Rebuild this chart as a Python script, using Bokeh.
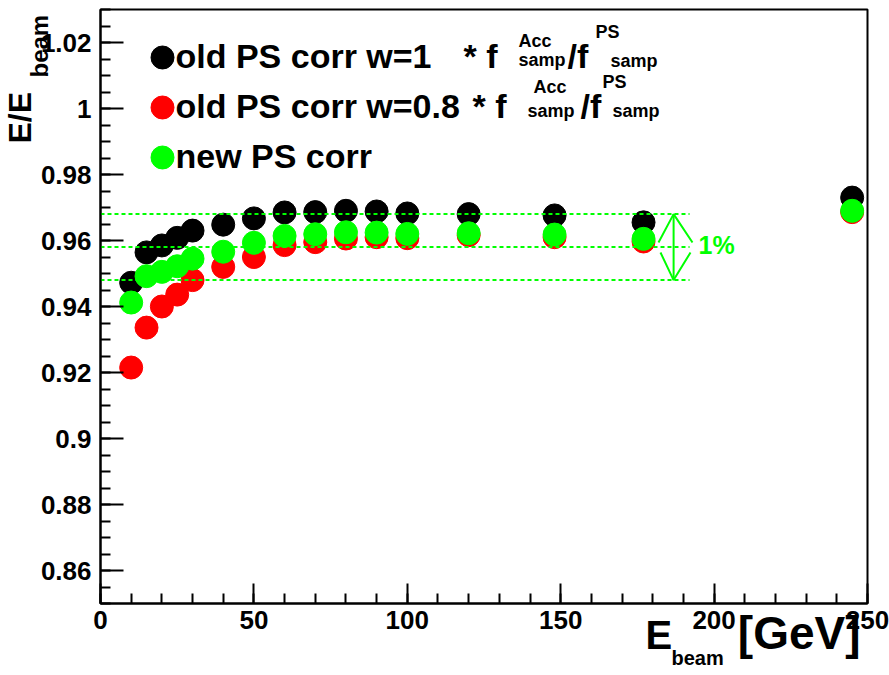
import math
from bokeh.plotting import figure
from bokeh.models import Range1d, Label, FixedTicker, CustomJSTickFormatter, ColumnDataSource
from bokeh.core.properties import value
from bokeh.embed import file_html
from bokeh.resources import INLINE

# ---------------- data ----------------
e_beam = [10, 15, 20, 25, 30, 40, 50, 60, 70, 80, 90, 100, 120, 148, 177, 245]
old_w1 = [0.9472, 0.9564, 0.9585, 0.9608, 0.9630, 0.9648, 0.9667, 0.9685, 0.9686,
          0.9690, 0.9688, 0.9682, 0.9680, 0.9676, 0.9655, 0.9730]
old_w08 = [0.9215, 0.9336, 0.9400, 0.9436, 0.9480, 0.9520, 0.9550, 0.9586, 0.9595,
           0.9606, 0.9610, 0.9607, 0.9616, 0.9610, 0.9597, 0.9686]
new_ps = [0.9412, 0.9492, 0.9505, 0.9522, 0.9545, 0.9566, 0.9593, 0.9614, 0.9619,
          0.9625, 0.9624, 0.9620, 0.9622, 0.9618, 0.9605, 0.9690]

series_names = ["old PS corr w=1", "old PS corr w=0.8", "new PS corr"]
series_colors = ["#000000", "#ff0000", "#00ff00"]

x_ticks = [0, 50, 100, 150, 200, 250]
x_minor = list(range(0, 251, 10))
y_ticks = [0.86, 0.88, 0.90, 0.92, 0.94, 0.96, 0.98, 1.00, 1.02]
y_tick_labels = ["0.86", "0.88", "0.9", "0.92", "0.94", "0.96", "0.98", "1", "1.02"]
y_minor = [round(0.85 + 0.005 * i, 3) for i in range(37)]

band_levels = [0.968, 0.958, 0.948]   # dotted reference lines (1% band)
band_xmax = 192
arrow_x = 186.8
band_text = "1%"

# ---------------- figure ----------------
W, H = 889, 675
FL, FR, FT, FB = 100, 867, 9, 603
X0, X1 = 0, 250
Y0, Y1 = 0.85, 1.03
MID = 0.3465  # (ascent - descent)/2 in em for Liberation Sans

def dx(px):
    return X0 + (px - FL) * (X1 - X0) / (FR - FL)

def dy(py):
    return Y1 - (py - FT) * (Y1 - Y0) / (FB - FT)

p = figure(width=W, height=H, x_range=Range1d(X0, X1), y_range=Range1d(Y0, Y1),
           output_backend="svg", toolbar_location=None, title=None,
           min_border_left=FL, min_border_right=W - FR,
           min_border_top=FT, min_border_bottom=H - FB)
p.background_fill_color = "white"
p.border_fill_color = "white"
p.outline_line_color = "black"
p.outline_line_width = 2
p.xgrid.visible = False
p.ygrid.visible = False

FONT = "Liberation Sans"

p.xaxis.ticker = FixedTicker(ticks=x_ticks, minor_ticks=x_minor)
p.yaxis.ticker = FixedTicker(ticks=y_ticks, minor_ticks=y_minor)
p.yaxis.formatter = CustomJSTickFormatter(
    args=dict(tv=y_ticks, tl=y_tick_labels),
    code="const i = tv.findIndex(t => Math.abs(t - tick) < 1e-9); return i >= 0 ? tl[i] : '';")
for ax in (p.xaxis[0], p.yaxis[0]):
    ax.axis_line_width = 2
    ax.major_tick_line_width = 2
    ax.minor_tick_line_width = 2
    ax.major_tick_out = 0
    ax.minor_tick_out = 0
    ax.minor_tick_in = 10
    ax.major_label_text_font = FONT
    ax.major_label_text_font_style = "bold"
    ax.major_label_text_font_size = "26px"
    ax.major_label_text_color = "black"
p.yaxis.major_tick_in = 23
p.xaxis.major_tick_in = 20
p.yaxis.major_label_standoff = 9
p.xaxis.major_label_standoff = 7

# ---------------- data points ----------------
for vals, col in zip([old_w1, old_w08, new_ps], series_colors):
    src = ColumnDataSource(dict(x=e_beam, y=vals))
    p.scatter("x", "y", source=src, size=23, fill_color=col, line_color=col, marker="circle")

# dotted band lines
for lvl in band_levels:
    p.line([0, band_xmax], [lvl, lvl], line_color="#00ff00", line_width=2, line_dash="4 3")

# double arrow (open heads)
top, mid, bot = band_levels
p.line([arrow_x, arrow_x], [bot, top], line_color="#00ff00", line_width=2)
p.line([dx(658), arrow_x, dx(692)], [dy(242), top, dy(242)], line_color="#00ff00", line_width=2)
p.line([dx(660), arrow_x, dx(690)], [dy(252), bot, dy(252)], line_color="#00ff00", line_width=2)
p.add_layout(Label(x=dx(698), y=dy(253 - MID * 25), text=band_text, text_font=FONT,
                   text_font_style="bold", text_font_size="25px", text_color="#00ff00",
                   text_baseline="middle"))

# ---------------- legend ----------------
leg_y = [57, 107, 157]
for py, col in zip(leg_y, series_colors):
    p.scatter([dx(162)], [dy(py)], size=23, fill_color=col, line_color=col, marker="circle")

def lab(px, py, text, size, align="left"):
    """px, py: canvas pixel position of the text baseline start (inside the frame)."""
    p.add_layout(Label(x=dx(px), y=dy(py - MID * size),
                       text=text, text_font=FONT, text_font_style="bold",
                       text_font_size=f"{size}px", text_color="black",
                       text_baseline="middle", text_align=align))

def outside(px, py, text, size, angle=0.0, align="left"):
    """Text outside the frame: anchored at the nearest frame edge, shifted by pixel offsets."""
    if angle == 0.0:
        sx, sy = px, py - MID * size
    else:
        sx, sy = px - MID * size, py
    ax_ = min(max(sx, FL + 1), FR - 1)
    ay_ = min(max(sy, FT + 1), FB - 1)
    p.text(x=[dx(ax_)], y=[dy(ay_)], text=[text], x_offset=sx - ax_, y_offset=sy - ay_,
           angle=angle, text_font=value(FONT), text_font_style="bold",
           text_font_size=f"{size}px", text_color="black",
           text_baseline="middle", text_align=align, level="overlay")

BIG = 34
SM = 18
lab(175, 67, series_names[0], BIG)
lab(463, 67, "* f", BIG)
lab(518, 47, "Acc", SM)
lab(518, 66, "samp", SM)
lab(567, 67, "/f", BIG)
lab(595, 38, "PS", SM)
lab(610, 67, "samp", SM)

lab(175, 117, series_names[1], BIG)
lab(472, 117, "* f", BIG)
lab(533, 93, "Acc", SM)
lab(527, 117, "samp", SM)
lab(580, 117, "/f", BIG)
lab(602, 88, "PS", SM)
lab(612, 117, "samp", SM)

lab(175, 167, series_names[2], BIG)

# ---------------- axis titles ----------------
outside(31, 143, "E/E", 32, angle=math.pi / 2)
outside(47, 77, "beam", 24, angle=math.pi / 2)

outside(645, 648, "E", 40)
outside(671, 664, "beam", 20)
outside(860, 648, "[GeV]", 46, align="right")

open("out.html", "w").write(file_html(p, INLINE))
